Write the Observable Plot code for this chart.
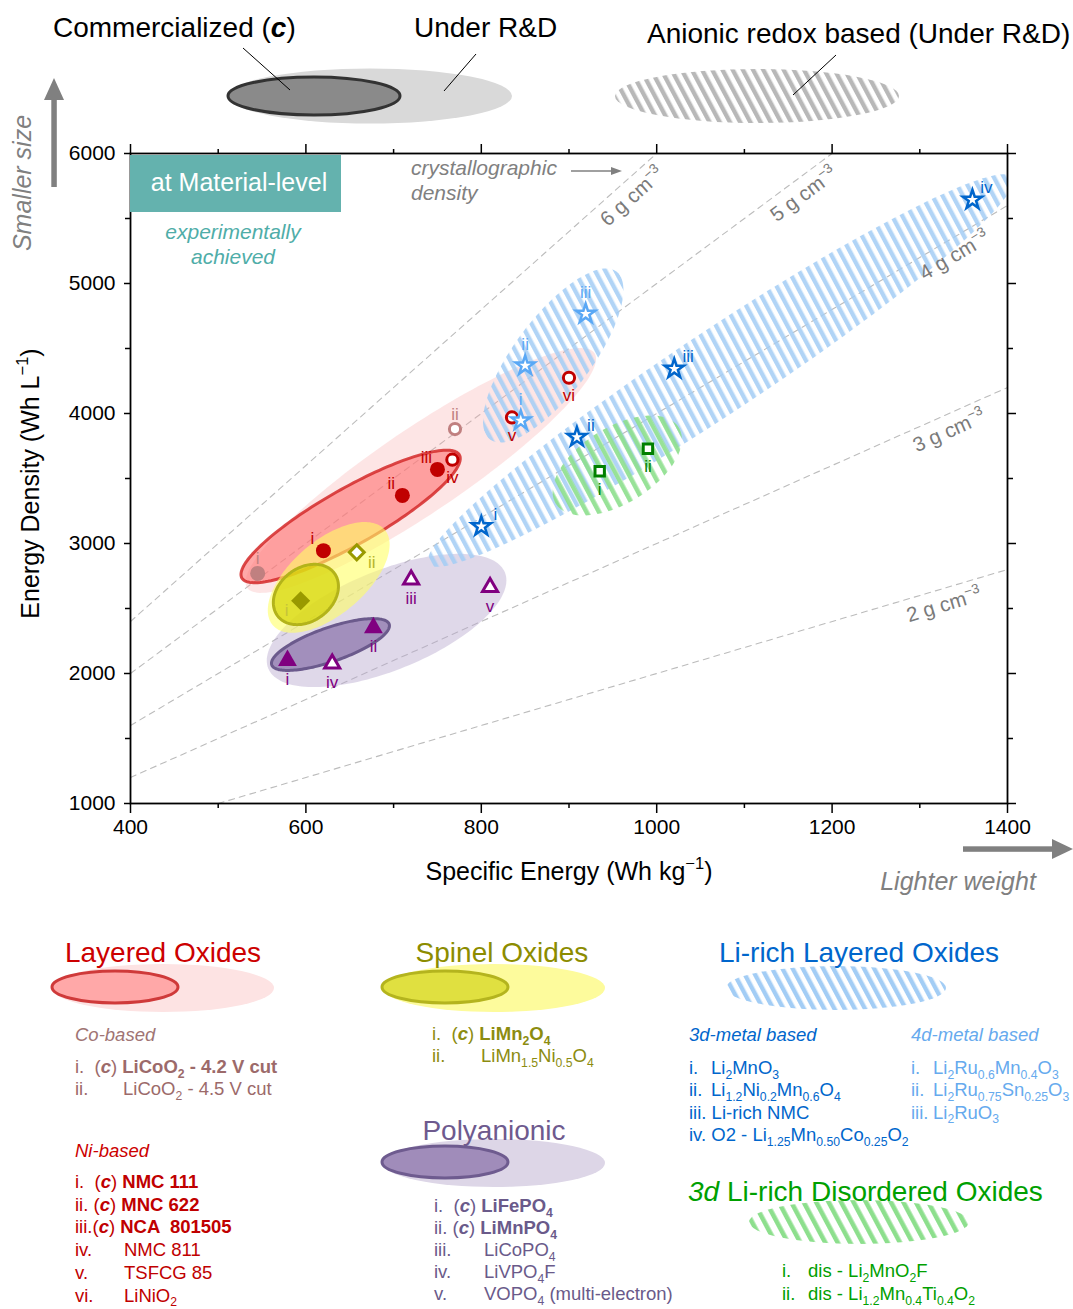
<!DOCTYPE html>
<html>
<head>
<meta charset="utf-8">
<script src="https://cdn.jsdelivr.net/npm/d3@7"></script>
<script src="https://cdn.jsdelivr.net/npm/@observablehq/plot@0.6"></script>
<style>
  body { margin: 0; background: #fff; }
  #chart { width: 1073px; }
  svg { display: block; }
  text { white-space: pre; }
</style>
</head>
<body>
<div id="chart"></div>
<script>
// ---------- data: specific energy (Wh/kg) vs energy density (Wh/L) ----------
const layeredCo = [
  {label: "i",  se: 545, ed: 2770, commercial: true},
  {label: "ii", se: 770, ed: 3880, commercial: false}
];
const layeredNi = [
  {label: "i",   se: 620, ed: 2945, commercial: true},
  {label: "ii",  se: 710, ed: 3370, commercial: true},
  {label: "iii", se: 750, ed: 3570, commercial: true},
  {label: "iv",  se: 767, ed: 3645, commercial: false},
  {label: "v",   se: 835, ed: 3970, commercial: false},
  {label: "vi",  se: 900, ed: 4275, commercial: false}
];
const spinel = [
  {label: "i",  se: 594, ed: 2560, commercial: true},
  {label: "ii", se: 658, ed: 2932, commercial: false}
];
const polyanionic = [
  {label: "i",   se: 579, ed: 2100, commercial: true},
  {label: "ii",  se: 677, ed: 2352, commercial: true},
  {label: "iii", se: 720, ed: 2721, commercial: false},
  {label: "iv",  se: 630, ed: 2075, commercial: false},
  {label: "v",   se: 810, ed: 2664, commercial: false}
];
const liRich3d = [
  {label: "i",   se: 800,  ed: 3131},
  {label: "ii",  se: 909,  ed: 3818},
  {label: "iii", se: 1020, ed: 4344},
  {label: "iv",  se: 1360, ed: 5644}
];
const liRich4d = [
  {label: "i",   se: 845, ed: 3946},
  {label: "ii",  se: 850, ed: 4369},
  {label: "iii", se: 919, ed: 4767}
];
const disordered = [
  {label: "i",  se: 935, ed: 3556},
  {label: "ii", se: 990, ed: 3729}
];

// crystallographic density guide lines (g/cm3)
const densities = [2, 3, 4, 5, 6];

// family regions: centre, end of the long axis, end of the short axis (Wh/kg, Wh/L)
const regionLayeredRD   = {center: [731, 3562],  major: [929, 4465],  minor: [758, 3294]};
const regionLayeredC    = {center: [651, 3208],  major: [775, 3682],  minor: [667, 3020]};
const regionSpinelRD    = {center: [626, 2739],  major: [690, 3105],  minor: [653, 2521]};
const regionSpinelC     = {center: [600, 2608],  major: [633, 2766],  minor: [617, 2438]};
const regionPolyRD      = {center: [692, 2408],  major: [827, 2776],  minor: [713, 2051]};
const regionPolyC       = {center: [628, 2223],  major: [695, 2379],  minor: [634, 2099]};
const regionLiRich4d    = {center: [882, 4446],  major: [954, 5092],  minor: [917, 4270]};
const regionLiRich3d    = {center: [1073, 4331], major: [1406, 5817], minor: [1099, 4062]};
const regionDisordered  = {center: [955, 3600],  major: [1025, 3894], minor: [978, 3352]};

// axes
const xMajor = [400, 600, 800, 1000, 1200, 1400];
const xMinor = [500, 700, 900, 1100, 1300];
const yMajor = [1000, 2000, 3000, 4000, 5000, 6000];
const yMinor = [1500, 2500, 3500, 4500, 5500];

// legend texts
const layeredCoItems = ["i.  (***c***) **LiCoO_{2} - 4.2 V cut**", "ii.\tLiCoO_{2} - 4.5 V cut"];
const layeredNiItems = ["i.  (***c***) **NMC 111**", "ii. (***c***) **MNC 622**", "iii.(***c***) **NCA  801505**",
                        "iv.\tNMC 811", "v.\tTSFCG 85", "vi.\tLiNiO_{2}"];
const spinelItems = ["i.  (***c***) **LiMn_{2}O_{4}**", "ii.\tLiMn_{1.5}Ni_{0.5}O_{4}"];
const polyItems = ["i.  (***c***) **LiFePO_{4}**", "ii. (***c***) **LiMnPO_{4}**", "iii.\tLiCoPO_{4}",
                   "iv.\tLiVPO_{4}F", "v.\tVOPO_{4} (multi-electron)"];
const liRich3dItems = ["i.\tLi_{2}MnO_{3}", "ii.\tLi_{1.2}Ni_{0.2}Mn_{0.6}O_{4}", "iii. Li-rich NMC",
                       "iv. O2 - Li_{1.25}Mn_{0.50}Co_{0.25}O_{2}"];
const liRich4dItems = ["i.\tLi_{2}Ru_{0.6}Mn_{0.4}O_{3}", "ii.\tLi_{2}Ru_{0.75}Sn_{0.25}O_{3}", "iii.\tLi_{2}RuO_{3}"];
const disorderedItems = ["i.\tdis - Li_{2}MnO_{2}F", "ii.\tdis - Li_{1.2}Mn_{0.4}Ti_{0.4}O_{2}"];

// ---------- layout ----------
const FONT = "'Liberation Sans', Arial, Helvetica, sans-serif";
const W = 1073, H = 900, mL = 130, mR = 66, mT = 153, mB = 97;
const kx = (W - mL - mR) / (xMajor[5] - xMajor[0]);
const ky = (H - mT - mB) / (yMajor[5] - yMajor[0]);

// ellipse outline from two conjugate semi-axes
function ellipsePoints(r, n = 160) {
  const [cx, cy] = r.center, [ax, ay] = r.major, [bx, by] = r.minor;
  return d3.range(n).map(i => {
    const t = 2 * Math.PI * i / n, c = Math.cos(t), s = Math.sin(t);
    return {se: cx + c * (ax - cx) + s * (bx - cx), ed: cy + c * (ay - cy) + s * (by - cy)};
  });
}
const regionMark = (r, o) => Plot.line(ellipsePoints(r), {x: "se", y: "ed", curve: "linear-closed", stroke: "none", ...o});

// density lines clipped to the axes box
const densityPoints = densities.flatMap(d => {
  const x0 = Math.max(400, 1000 / d), x1 = Math.min(1400, 6000 / d);
  return [{d, se: x0, ed: d * x0}, {d, se: x1, ed: d * x1}];
});
const densityLabels = densities.map(d => {
  const se = Math.min(1400, 6000 / d), ed = d * se;
  const a = Math.atan(d * ky / kx);
  const along = ed >= 6000 ? 47 : 71, perp = 16;
  return Plot.text([{se, ed, t: `${d} g cm^{−3}`}], {
    x: "se", y: "ed", text: "t", rotate: -a * 180 / Math.PI,
    dx: -along * Math.cos(a) + perp * Math.sin(a),
    dy: along * Math.sin(a) + perp * Math.cos(a),
    fontSize: 20.5, fill: "#7a7a7a"
  });
});

const fmt = d => `${d}`;
const noText = () => "";
const isC = d => d.commercial, notC = d => !d.commercial;
const lbl = (data, o) => Plot.text(data, {x: "se", y: "ed", text: "label", fontSize: 17, ...o});

const plot = Plot.plot({
  width: W, height: H, marginLeft: mL, marginRight: mR, marginTop: mT, marginBottom: mB,
  x: {domain: [400, 1400]},
  y: {domain: [1000, 6000]},
  style: {fontFamily: FONT, background: "white", overflow: "visible"},
  marks: [
    Plot.line(densityPoints, {x: "se", y: "ed", z: "d", stroke: "#bcbcbc", strokeWidth: 1.1, strokeDasharray: "6 5"}),

    regionMark(regionLayeredRD, {fill: "#f8a8a8", fillOpacity: 0.3}),
    regionMark(regionLayeredC, {fill: "#ff7070", fillOpacity: 0.6, stroke: "#d42a2a", strokeOpacity: 0.85, strokeWidth: 3}),
    regionMark(regionPolyRD, {fill: "#b9a9cf", fillOpacity: 0.45}),
    regionMark(regionPolyC, {fill: "#7a5f9e", fillOpacity: 0.6, stroke: "#6b5a8c", strokeWidth: 3}),
    regionMark(regionSpinelRD, {fill: "#ffff66", fillOpacity: 0.6}),
    regionMark(regionSpinelC, {fill: "#d4d400", fillOpacity: 0.7, stroke: "#b3b31a", strokeWidth: 3}),
    regionMark(regionLiRich4d, {fill: "url(#hatch-blue)", fillOpacity: 0.85}),
    regionMark(regionLiRich3d, {fill: "url(#hatch-blue)", fillOpacity: 0.85, clip: true}),
    regionMark(regionDisordered, {fill: "url(#hatch-green)", fillOpacity: 0.9}),

    ...densityLabels,

    // layered oxides
    Plot.dot(layeredCo, {filter: isC, x: "se", y: "ed", r: 7.5, fill: "#c08080"}),
    Plot.dot(layeredCo, {filter: notC, x: "se", y: "ed", r: 5.6, fill: "white", stroke: "#c08080", strokeWidth: 3}),
    Plot.dot(layeredNi, {filter: isC, x: "se", y: "ed", r: 7.5, fill: "#c00000"}),
    Plot.dot(layeredNi, {filter: notC, x: "se", y: "ed", r: 5.6, fill: "white", stroke: "#c00000", strokeWidth: 3}),
    // spinel
    Plot.dot(spinel, {filter: isC, x: "se", y: "ed", symbol: "diamond2", r: 8.6, fill: "#999900"}),
    Plot.dot(spinel, {filter: notC, x: "se", y: "ed", symbol: "diamond2", r: 6.7, fill: "white", stroke: "#999900", strokeWidth: 3}),
    // polyanionic
    Plot.dot(polyanionic, {filter: isC, x: "se", y: "ed", symbol: "triangle", r: 7, fill: "#800080"}),
    Plot.dot(polyanionic, {filter: notC, x: "se", y: "ed", symbol: "triangle", r: 5.6, fill: "white", stroke: "#800080", strokeWidth: 3, strokeLinejoin: "miter"}),
    // disordered
    Plot.dot(disordered, {x: "se", y: "ed", symbol: "square", r: 5.3, fill: "white", stroke: "#008000", strokeWidth: 3}),
    // Li-rich layered
    Plot.dot(liRich3d, {x: "se", y: "ed", symbol: "star", r: 6, fill: "white", stroke: "#0066cc", strokeWidth: 2.5}),
    Plot.dot(liRich4d, {x: "se", y: "ed", symbol: "star", r: 6, fill: "white", stroke: "#5aa8f5", strokeWidth: 2.5}),

    // roman numeral tags
    lbl(layeredCo, {dy: -15, fill: "#c08080"}),
    lbl(layeredNi, {filter: isC, dx: -11, dy: -12, fill: "#c00000"}),
    lbl(layeredNi, {filter: notC, dy: 18, fill: "#c00000"}),
    lbl(spinel, {filter: isC, dx: -14, dy: 10, fill: "#c4c43a"}),
    lbl(spinel, {filter: notC, dx: 15, dy: 10, fill: "#b5b52a"}),
    lbl(polyanionic, {dy: 19, fill: "#800080"}),
    lbl(liRich3d, {dx: 14, dy: -12, fill: "#0066cc"}),
    lbl(liRich4d, {dy: -21, fill: "#5aa8f5"}),
    lbl(disordered, {dy: 18, fill: "#008000"}),

    // axes: ticks all round, labels on left and bottom
    Plot.axisX(xMajor, {tickSize: 10, tickPadding: 6, fontSize: 21, tickFormat: fmt, strokeWidth: 1.5, label: null}),
    Plot.axisX(xMinor, {tickSize: 5, tickFormat: noText, strokeWidth: 1.5, label: null}),
    Plot.axisX(xMajor, {anchor: "top", tickSize: 10, tickFormat: noText, strokeWidth: 1.5, label: null}),
    Plot.axisX(xMinor, {anchor: "top", tickSize: 5, tickFormat: noText, strokeWidth: 1.5, label: null}),
    Plot.axisY(yMajor, {tickSize: 6, tickPadding: 9, fontSize: 21, tickFormat: fmt, strokeWidth: 1.5, label: null}),
    Plot.axisY(yMinor, {tickSize: 5, tickFormat: noText, strokeWidth: 1.5, label: null}),
    Plot.axisY(yMajor, {anchor: "right", tickSize: 8, tickFormat: noText, strokeWidth: 1.5, label: null}),
    Plot.axisY(yMinor, {anchor: "right", tickSize: 5, tickFormat: noText, strokeWidth: 1.5, label: null}),
    Plot.frame({stroke: "black", strokeWidth: 1.8}),

    Plot.text(["Specific Energy (Wh kg^{−1})"], {frameAnchor: "bottom", dy: 68, fontSize: 25, textAnchor: "middle", lineAnchor: "middle"}),
    Plot.text(["Energy Density (Wh L^{−1})"], {frameAnchor: "left", dx: -100, dy: 5, rotate: -90, fontSize: 25, textAnchor: "middle", lineAnchor: "middle"})
  ]
});
document.getElementById("chart").appendChild(plot);

// ---------- helpers for rich text (sub/superscripts, bold, italic) ----------
function rich(sel, str, size) {
  sel.text(null);
  const segs = [];
  let bold = false, ital = false, buf = "";
  const flush = () => { if (buf) { segs.push({t: buf, bold, ital, shift: 0}); buf = ""; } };
  for (let i = 0; i < str.length;) {
    if (str.startsWith("**", i)) { flush(); bold = !bold; i += 2; }
    else if (str[i] === "*") { flush(); ital = !ital; i += 1; }
    else if ((str[i] === "_" || str[i] === "^") && str[i + 1] === "{") {
      flush();
      const j = str.indexOf("}", i);
      segs.push({t: str.slice(i + 2, j), bold, ital, shift: str[i] === "_" ? 1 : -1});
      i = j + 1;
    } else { buf += str[i]; i += 1; }
  }
  flush();
  let cur = 0;
  for (const s of segs) {
    const target = s.shift === 1 ? size * 0.25 : s.shift === -1 ? -size * 0.42 : 0;
    const ts = sel.append("tspan").text(s.t);
    if (target !== cur) ts.attr("dy", target - cur);
    cur = target;
    if (s.shift) ts.attr("font-size", size * 0.66);
    if (s.bold) ts.attr("font-weight", "bold");
    if (s.ital) ts.attr("font-style", "italic");
  }
}
function txt(g, x, y, str, {size = 18.5, fill = "#000", anchor = "start", italic = false, rotate = null} = {}) {
  const t = g.append("text").attr("x", x).attr("y", y).attr("font-size", size).attr("fill", fill)
    .attr("text-anchor", anchor).attr("font-family", FONT);
  if (italic) t.attr("font-style", "italic");
  if (rotate != null) t.attr("transform", `rotate(${rotate},${x},${y})`);
  rich(t, str, size);
  return t;
}
function addPatterns(svgSel, prefix) {
  const defs = svgSel.insert("defs", ":first-child");
  const specs = [["hatch-blue", "#a3cdf5", 9, 4.4], ["hatch-green", "#8ddf8d", 11, 4.6], ["hatch-gray", "#b8b8b8", 9, 4.4]];
  for (const [id, color, period, w] of specs) {
    const p = defs.append("pattern").attr("id", prefix + id).attr("patternUnits", "userSpaceOnUse")
      .attr("width", period).attr("height", period).attr("patternTransform", "rotate(-28)");
    p.append("rect").attr("width", w).attr("height", period).attr("fill", color);
  }
}

const svg = d3.select(plot);
addPatterns(svg, "");

// superscripts in plot texts
svg.selectAll("text").each(function () {
  const t = this.textContent;
  if (/[\^_]\{/.test(t)) {
    const size = +this.parentNode.getAttribute("font-size") || 18;
    rich(d3.select(this), t, size);
  }
});

// ---------- annotations ----------
const ann = svg.append("g");
const GREY = "#808080";

// status key above the axes
ann.append("ellipse").attr("cx", 370).attr("cy", 96).attr("rx", 142).attr("ry", 27.5).attr("fill", "#d9d9d9");
ann.append("ellipse").attr("cx", 314).attr("cy", 96).attr("rx", 86).attr("ry", 19).attr("fill", "#8a8a8a")
  .attr("stroke", "#333").attr("stroke-width", 3);
ann.append("ellipse").attr("cx", 757).attr("cy", 96).attr("rx", 142).attr("ry", 27).attr("fill", "url(#hatch-gray)");
txt(ann, 53, 37, "Commercialized (***c***)", {size: 28});
txt(ann, 414, 37, "Under R&D", {size: 28});
txt(ann, 647, 43, "Anionic redox based (Under R&D)", {size: 28});
for (const [x1, y1, x2, y2] of [[243, 48, 290, 90], [476, 54, 444, 91], [836, 55, 793, 95]]) {
  ann.append("line").attr("x1", x1).attr("y1", y1).attr("x2", x2).attr("y2", y2).attr("stroke", "#000").attr("stroke-width", 1);
}

// size / weight arrows
ann.append("rect").attr("x", 51.3).attr("y", 98).attr("width", 5.5).attr("height", 89).attr("fill", GREY);
ann.append("path").attr("d", "M44,100 L64,100 L54,78 Z").attr("fill", GREY);
txt(ann, 31, 183, "Smaller size", {size: 25, fill: GREY, italic: true, anchor: "middle", rotate: -90});
ann.append("rect").attr("x", 963).attr("y", 846.3).attr("width", 91).attr("height", 5.5).attr("fill", GREY);
ann.append("path").attr("d", "M1052,839 L1052,859 L1073,849 Z").attr("fill", GREY);
txt(ann, 958, 890, "Lighter weight", {size: 25, fill: GREY, italic: true, anchor: "middle"});

// material-level tag
ann.append("rect").attr("x", 130).attr("y", 155).attr("width", 211).attr("height", 57).attr("fill", "#64b2ae");
txt(ann, 239, 191, "at Material-level", {size: 25, fill: "#fff", anchor: "middle"});
txt(ann, 233, 239, "experimentally", {size: 21, fill: "#4fada8", italic: true, anchor: "middle"});
txt(ann, 233, 264, "achieved", {size: 21, fill: "#4fada8", italic: true, anchor: "middle"});

// crystallographic density note
txt(ann, 411, 175, "crystallographic", {size: 21, fill: GREY, italic: true});
txt(ann, 411, 200, "density", {size: 21, fill: GREY, italic: true});
ann.append("line").attr("x1", 571).attr("y1", 171).attr("x2", 612).attr("y2", 171).attr("stroke", GREY).attr("stroke-width", 1.3);
ann.append("path").attr("d", "M611,167 L622,171 L611,175 Z").attr("fill", GREY);

// ---------- family legend below the chart ----------
const LY = 900;
const leg = d3.select("#chart").append("svg").attr("width", W).attr("height", 1309 - LY)
  .attr("viewBox", `0 ${LY} ${W} ${1309 - LY}`).attr("font-family", FONT);
addPatterns(leg, "lg-");

function items(g, list, x, y0, step, tab, fill) {
  list.forEach((s, i) => {
    const y = y0 + i * step;
    const parts = s.split("\t");
    txt(g, x, y, parts[0], {fill});
    if (parts.length > 1) txt(g, x + tab, y, parts[1], {fill});
  });
}

// layered oxides
leg.append("ellipse").attr("cx", 163).attr("cy", 988).attr("rx", 111).attr("ry", 24).attr("fill", "#fde3e3");
leg.append("ellipse").attr("cx", 115).attr("cy", 987).attr("rx", 63).attr("ry", 16).attr("fill", "#ffa8a8")
  .attr("stroke", "#cf3a3a").attr("stroke-width", 3);
txt(leg, 163, 962, "Layered Oxides", {size: 28, fill: "#cc0000", anchor: "middle"});
txt(leg, 75, 1041, "Co-based", {fill: "#a07474", italic: true});
items(leg, layeredCoItems, 75, 1073, 22, 48, "#9c6a6a");
txt(leg, 75, 1157, "Ni-based", {fill: "#cc0000", italic: true});
items(leg, layeredNiItems, 75, 1188, 22.7, 49, "#c00000");

// spinel
leg.append("ellipse").attr("cx", 494).attr("cy", 988).attr("rx", 111).attr("ry", 24).attr("fill", "#fdfb9c");
leg.append("ellipse").attr("cx", 445).attr("cy", 987).attr("rx", 63).attr("ry", 16).attr("fill", "#e0e040")
  .attr("stroke", "#b4b41e").attr("stroke-width", 3);
txt(leg, 502, 962, "Spinel Oxides", {size: 28, fill: "#8c8c00", anchor: "middle"});
items(leg, spinelItems, 432, 1040, 22, 49, "#8c8c10");

// polyanionic
leg.append("ellipse").attr("cx", 494).attr("cy", 1163).attr("rx", 111).attr("ry", 24).attr("fill", "#ddd6e7");
leg.append("ellipse").attr("cx", 445).attr("cy", 1162).attr("rx", 63).attr("ry", 16).attr("fill", "#a08cba")
  .attr("stroke", "#6e5b8f").attr("stroke-width", 3);
txt(leg, 494, 1140, "Polyanionic", {size: 28, fill: "#6e5a8e", anchor: "middle"});
items(leg, polyItems, 434, 1212, 22, 50, "#6a5a8a");

// Li-rich layered
leg.append("ellipse").attr("cx", 836).attr("cy", 988).attr("rx", 110).attr("ry", 22).attr("fill", "url(#lg-hatch-blue)");
txt(leg, 859, 962, "Li-rich Layered Oxides", {size: 28, fill: "#0066cc", anchor: "middle"});
txt(leg, 689, 1041, "3d-metal based", {fill: "#0066cc", italic: true});
items(leg, liRich3dItems, 689, 1074, 22.3, 22, "#0066cc");
txt(leg, 911, 1041, "4d-metal based", {fill: "#66aaee", italic: true});
items(leg, liRich4dItems, 911, 1074, 22.3, 22, "#66aaee");

// disordered
leg.append("ellipse").attr("cx", 859).attr("cy", 1222).attr("rx", 110).attr("ry", 22).attr("fill", "url(#lg-hatch-green)");
txt(leg, 688, 1201, "*3d* Li-rich Disordered Oxides", {size: 28, fill: "#00a000"});
items(leg, disorderedItems, 782, 1277, 23, 26, "#00a000");
</script>
</body>
</html>
